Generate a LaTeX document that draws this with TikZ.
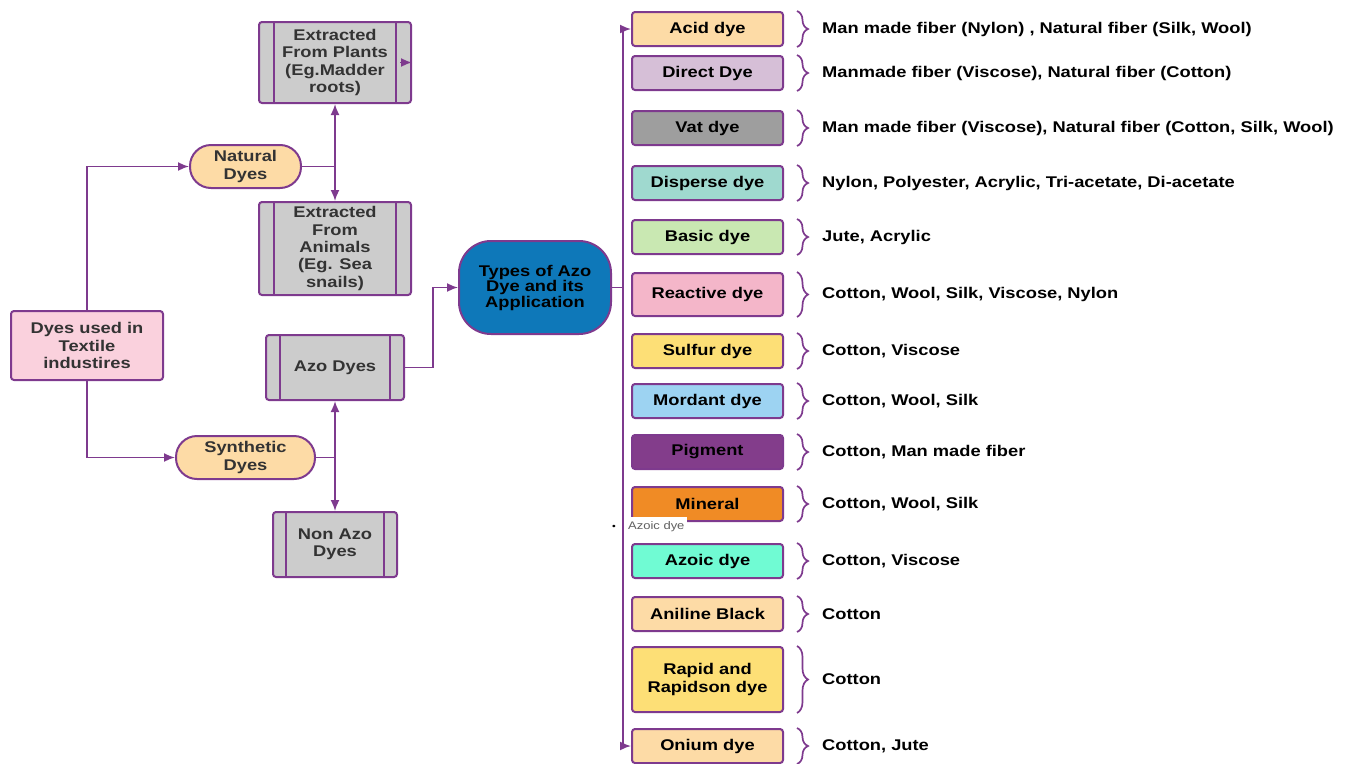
\documentclass[tikz,border=0pt]{standalone}
\usepackage{fontspec}
\setmainfont{Liberation Sans}[FakeStretch=1.18]
\usetikzlibrary{arrows.meta, decorations.pathreplacing, positioning}

\definecolor{edge}{HTML}{7E3A8E}
\definecolor{txtgray}{HTML}{333333}
\definecolor{procgray}{HTML}{CCCCCC}
\definecolor{dyepink}{HTML}{FAD1DD}
\definecolor{peach}{HTML}{FDDBA6}
\definecolor{azoblue}{HTML}{0E78B9}
\definecolor{mauve}{HTML}{D6BFD7}
\definecolor{vatgray}{HTML}{9E9E9E}
\definecolor{teal}{HTML}{9FD9CF}
\definecolor{lgreen}{HTML}{C9E8B2}
\definecolor{rpink}{HTML}{F4B6C9}
\definecolor{sunny}{HTML}{FDDF76}
\definecolor{lblue}{HTML}{9DD3F2}
\definecolor{plum}{HTML}{833D8B}
\definecolor{amber}{HTML}{F08B25}
\definecolor{aqua}{HTML}{70FBD3}

\tikzset{
  box/.style={draw=edge, line width=2pt, rounded corners=3pt, align=center,
    inner sep=2pt, font=\bfseries\fontsize{15.5}{17.3}\selectfont},
  dyebox/.style={box, minimum width=151pt, minimum height=34pt},
  proc/.style={box, fill=procgray, text=txtgray,
    path picture={\draw[edge, line width=2pt]
      ([xshift=#1]path picture bounding box.north west) -- ([xshift=#1]path picture bounding box.south west)
      ([xshift=-#1]path picture bounding box.north east) -- ([xshift=-#1]path picture bounding box.south east);}},
  proc/.default=15pt,
  pill/.style={box, rounded corners=21pt, fill=peach, text=txtgray},
  flow/.style={draw=edge, line width=1.7pt, -{Latex[length=11pt,width=9pt]}},
  fibbrace/.style={draw=edge, line width=1.7pt, decorate, decoration={brace, amplitude=11pt}},
  fibre/.style={anchor=west, inner sep=0pt, font=\bfseries\fontsize{15.5}{17}\selectfont}
}

\begin{document}
\begin{tikzpicture}[x=1pt, y=-1pt]
  \useasboundingbox (0,0) rectangle (1351,763);

  % left part
  \node[box, fill=dyepink, text=txtgray, minimum width=152pt, minimum height=69pt] (textile) at (87,345.5) {Dyes used in\\Textile\\industires};
  \node[pill, minimum width=111pt, minimum height=43pt] (natural) at (245.5,166.5) {Natural\\Dyes};
  \node[pill, minimum width=139pt, minimum height=43pt] (synthetic) at (245.5,457.5) {Synthetic\\Dyes};
  \node[proc, minimum width=152pt, minimum height=81pt] (plants) at (335,62.5) {Extracted\\From Plants\\(Eg.Madder\\roots)};
  \node[proc, minimum width=152pt, minimum height=93pt] (animals) at (335,248.5) {Extracted\\From\\Animals\\(Eg. Sea\\snails)};
  \node[proc=14pt, minimum width=138pt, minimum height=65pt] (azo) at (335,367.5) {Azo Dyes};
  \node[proc=13pt, minimum width=124pt, minimum height=65pt] (nonazo) at (335,544.5) {Non Azo\\Dyes};
  \node[box, rounded corners=32pt, fill=azoblue, text=black, minimum width=152pt, minimum height=93pt,
    font=\bfseries\fontsize{15.5}{15.5}\selectfont] (types) at (535,287.5) {Types of Azo\\Dye and its\\Application};

  % dye types and fibres
  \foreach \id/\lbl/\col/\yc/\hgt/\fib in {
    acid/{Acid dye}/peach/29/34/{Man made fiber (Nylon) , Natural fiber (Silk, Wool)},
    direct/{Direct Dye}/mauve/73/34/{Manmade fiber (Viscose), Natural fiber (Cotton)},
    vat/{Vat dye}/vatgray/128/34/{Man made fiber (Viscose), Natural fiber (Cotton, Silk, Wool)},
    disperse/{Disperse dye}/teal/183/34/{Nylon, Polyester, Acrylic, Tri-acetate, Di-acetate},
    basic/{Basic dye}/lgreen/237/34/{Jute, Acrylic},
    reactive/{Reactive dye}/rpink/294.5/43/{Cotton, Wool, Silk, Viscose, Nylon},
    sulfur/{Sulfur dye}/sunny/351/34/{Cotton, Viscose},
    mordant/{Mordant dye}/lblue/401/34/{Cotton, Wool, Silk},
    pigment/{Pigment}/plum/452/34/{Cotton, Man made fiber},
    mineral/{Mineral}/amber/504/34/{Cotton, Wool, Silk},
    azoic/{Azoic dye}/aqua/561/34/{Cotton, Viscose},
    aniline/{Aniline Black}/peach/614/34/{Cotton},
    rapid/{Rapid and\\Rapidson dye}/sunny/679.5/65/{Cotton},
    onium/{Onium dye}/peach/746/34/{Cotton, Jute}}
  {
    \node[dyebox, fill=\col, minimum height=\hgt pt] (\id) at (707.5,\yc) {\lbl};
    \draw[fibbrace] ([xshift=13pt]\id.north east) -- ([xshift=13pt]\id.south east);
    \node[fibre] (\id-fib) at ([xshift=38pt]\id.east) {\fib};
  }

  \node[fill=white, text=gray!75!black, inner xsep=3pt, inner ysep=5pt, anchor=west, font=\fontsize{11}{12}\selectfont] (azoicnote) at (625,527) {Azoic dye};
  \node[inner sep=0pt, font=\fontsize{9}{9}\selectfont] (notedot) at (614,527) {\textbullet};

  % connectors
  \draw[flow] (textile.north) |- (natural.west);
  \draw[flow] (textile.south) |- (synthetic.west);
  \draw[flow] (natural.east) -| (plants.south);
  \draw[flow] (natural.east) -| (animals.north);
  \draw[flow] (synthetic.east) -| (azo.south);
  \draw[flow] (synthetic.east) -| (nonazo.north);
  \draw[flow] (azo.east) -- ++(28,0) |- (types.west);
  \draw[flow] (types.east) -- ++(11,0) |- (acid.west);
  \draw[flow] (types.east) -- ++(11,0) |- (onium.west);
  \coordinate (plantstip) at ([xshift=-12pt]plants.east);
  \draw[flow] (plantstip) -- (plants.east);
\end{tikzpicture}
\end{document}
